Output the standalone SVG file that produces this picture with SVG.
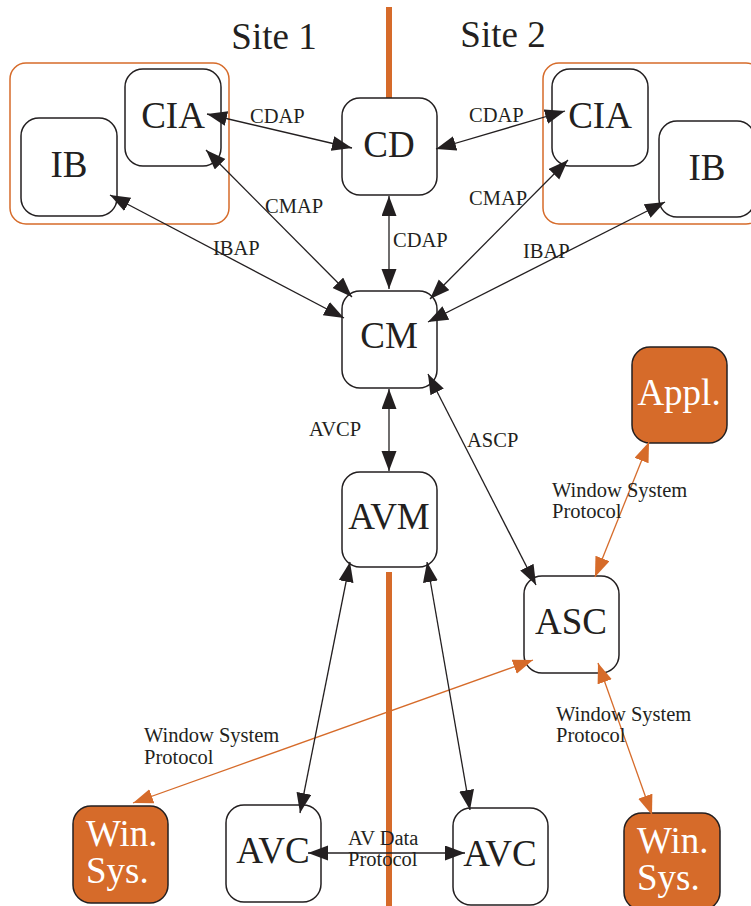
<svg xmlns="http://www.w3.org/2000/svg" width="751" height="906" viewBox="0 0 751 906">
<style>
.bg{fill:#fff}
.node{fill:#fff;stroke:#231F20;stroke-width:1.5}
.onode{fill:#D66B2A;stroke:#231F20;stroke-width:1.5}
.cont{fill:none;stroke:#D66B2A;stroke-width:1.5}
.sep{stroke:#D66B2A;stroke-width:6}
.big{font-family:"Liberation Serif","Times New Roman",serif;font-size:37px;fill:#231F20}
.wbig{font-family:"Liberation Serif","Times New Roman",serif;font-size:37px;fill:#fff}
.lbl{font-family:"Liberation Serif","Times New Roman",serif;font-size:20.5px;fill:#231F20}
.k{stroke:#231F20;stroke-width:1.3;fill:none;marker-start:url(#ak);marker-end:url(#ak)}
.o{stroke:#D66B2A;stroke-width:1.3;fill:none;marker-start:url(#ao);marker-end:url(#ao)}
</style>
<defs>
<marker id="ak" markerUnits="userSpaceOnUse" markerWidth="22" markerHeight="17" refX="20" refY="7.5" orient="auto-start-reverse"><path d="M0,0 L20,7.5 L0,15 z" fill="#231F20"/></marker>
<marker id="ao" markerUnits="userSpaceOnUse" markerWidth="22" markerHeight="17" refX="20" refY="7.5" orient="auto-start-reverse"><path d="M0,0 L20,7.5 L0,15 z" fill="#D66B2A"/></marker>
</defs>
<rect class="bg" x="0" y="0" width="751" height="906"/>
<g id="separators">
<line class="sep" x1="389" y1="7" x2="389" y2="98"/>
<line class="sep" x1="389" y1="572" x2="389" y2="906"/>
</g>
<g id="site-labels">
<text class="big" x="274" y="49" text-anchor="middle">Site 1</text>
<text class="big" x="503" y="47" text-anchor="middle">Site 2</text>
</g>
<g id="site1-container"><rect class="cont" x="10" y="63" width="219" height="161" rx="16"/></g>
<g id="site2-container"><rect class="cont" x="543" y="63" width="219" height="161" rx="16"/></g>
<g id="cia1"><rect class="node" x="125" y="69" width="96" height="97" rx="18"/><text class="big" x="173" y="128" text-anchor="middle">CIA</text></g>
<g id="ib1"><rect class="node" x="21" y="118" width="96" height="98" rx="18"/><text class="big" x="69" y="177" text-anchor="middle">IB</text></g>
<g id="cd"><rect class="node" x="342" y="98" width="95" height="97" rx="18"/><text class="big" x="389" y="157" text-anchor="middle">CD</text></g>
<g id="cia2"><rect class="node" x="552" y="69" width="96" height="97" rx="18"/><text class="big" x="600" y="128" text-anchor="middle">CIA</text></g>
<g id="ib2"><rect class="node" x="659" y="121" width="96" height="96" rx="18"/><text class="big" x="707" y="180" text-anchor="middle">IB</text></g>
<g id="cm"><rect class="node" x="342" y="291" width="95" height="97" rx="18"/><text class="big" x="389" y="348" text-anchor="middle">CM</text></g>
<g id="avm"><rect class="node" x="342" y="472" width="95" height="95" rx="18"/><text class="big" x="389" y="529" text-anchor="middle">AVM</text></g>
<g id="appl"><rect class="onode" x="632" y="347" width="95" height="96" rx="18"/><text class="wbig" x="679" y="405" text-anchor="middle">Appl.</text></g>
<g id="asc"><rect class="node" x="524" y="576" width="95" height="97" rx="18"/><text class="big" x="571" y="634" text-anchor="middle">ASC</text></g>
<g id="winsys1"><rect class="onode" x="73" y="806" width="95" height="97" rx="18"/><text class="wbig" x="86" y="846">Win.</text><text class="wbig" x="86" y="883">Sys.</text></g>
<g id="avc1"><rect class="node" x="226" y="805" width="95" height="97" rx="18"/><text class="big" x="273" y="863" text-anchor="middle">AVC</text></g>
<g id="avc2"><rect class="node" x="453" y="808" width="95" height="97" rx="18"/><text class="big" x="500" y="866" text-anchor="middle">AVC</text></g>
<g id="winsys2"><rect class="onode" x="624" y="813" width="96" height="97" rx="18"/><text class="wbig" x="637" y="853">Win.</text><text class="wbig" x="637" y="890">Sys.</text></g>
<g id="connectors">
<line class="k" x1="207" y1="114" x2="352" y2="148"/>
<line class="k" x1="206" y1="150" x2="352" y2="297"/>
<line class="k" x1="110" y1="195" x2="344" y2="318"/>
<line class="k" x1="389" y1="196" x2="389" y2="289"/>
<line class="k" x1="436" y1="149" x2="565" y2="111"/>
<line class="k" x1="568" y1="160" x2="430" y2="299"/>
<line class="k" x1="665" y1="202" x2="428" y2="322"/>
<line class="k" x1="389" y1="389" x2="389" y2="471"/>
<line class="k" x1="428" y1="374" x2="536" y2="585"/>
<line class="o" x1="649" y1="442" x2="595" y2="577"/>
<line class="o" x1="598" y1="663" x2="652" y2="815"/>
<line class="o" x1="533" y1="660" x2="133" y2="803"/>
<line class="k" x1="350" y1="562" x2="300" y2="813"/>
<line class="k" x1="427" y1="562" x2="470" y2="810"/>
<line class="k" x1="308" y1="853" x2="465" y2="853"/>
</g>
<g id="connector-labels">
<text class="lbl" x="250" y="123">CDAP</text>
<text class="lbl" x="265" y="213">CMAP</text>
<text class="lbl" x="213" y="255">IBAP</text>
<text class="lbl" x="469" y="122">CDAP</text>
<text class="lbl" x="393" y="247">CDAP</text>
<text class="lbl" x="469" y="205">CMAP</text>
<text class="lbl" x="523" y="258">IBAP</text>
<text class="lbl" x="309" y="436">AVCP</text>
<text class="lbl" x="467" y="447">ASCP</text>
<text class="lbl" x="552" y="497">Window System</text>
<text class="lbl" x="552" y="518">Protocol</text>
<text class="lbl" x="144" y="742">Window System</text>
<text class="lbl" x="144" y="764">Protocol</text>
<text class="lbl" x="556" y="721">Window System</text>
<text class="lbl" x="556" y="742">Protocol</text>
<text class="lbl" x="348" y="845">AV Data</text>
<text class="lbl" x="348" y="866">Protocol</text>
</g>
</svg>
